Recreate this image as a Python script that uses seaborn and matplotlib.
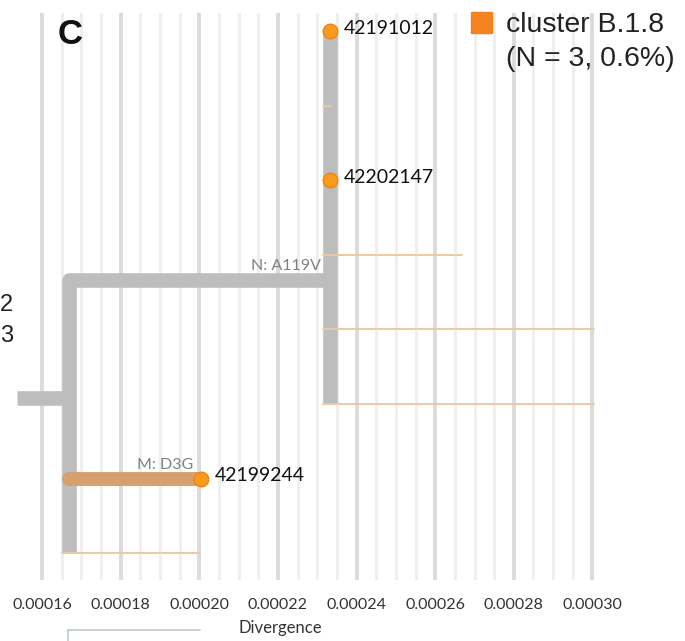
import numpy as np
import pandas as pd
import matplotlib
matplotlib.use("Agg")
import matplotlib.pyplot as plt
import seaborn as sns
from matplotlib.patches import Rectangle
from matplotlib.lines import Line2D

# ---------------- data ----------------
tip_names = ["42191012", "42202147", "42199244"]
tip_div = [0.0002332, 0.0002332, 0.0002005]
tip_y = [0, 2, 6]

node_upper_div = 0.0002332
node_lower_div = 0.0001668
root_div = 0.0001536
node_upper_y = 3.34
root_y = 4.92
upper_span = [0, 5]
lower_span = [3.34, 7]

mut_labels = ["N: A119V", "M: D3G"]

thin_start = [0.0002314, 0.0002314, 0.0002314, 0.0002314, 0.0001651]
thin_end = [0.0002334, 0.0002668, 0.0003004, 0.0003004, 0.0002002]
thin_y = [1, 3, 4, 5, 7]

major_ticks = [0.00016, 0.00018, 0.00020, 0.00022, 0.00024, 0.00026, 0.00028, 0.00030]
tick_labels = ["0.00016", "0.00018", "0.00020", "0.00022", "0.00024", "0.00026", "0.00028", "0.00030"]

legend_lines = ["cluster B.1.8", "(N = 3, 0.6%)"]
side_labels = ["2", "3"]

# ---------------- figure ----------------
sns.set_theme(style="white")
W, H = 685, 641
fig = plt.figure(figsize=(W / 100, H / 100), dpi=100)

def fx(px):
    return px / W

def fy(py):
    return 1 - py / H

ax = fig.add_axes([0, fy(580), 1, (580 - 13) / H])
ax.set_xlim(0.00014932, 0.00032353)
ax.set_ylim(7.36, -0.241)
for s in ax.spines.values():
    s.set_visible(False)

# grid
minor = np.arange(0.00016, 0.0003001, 0.000005)
for v in minor:
    ax.axvline(v, color="#eeeeee", lw=2.0, zorder=0)
for v in major_ticks:
    ax.axvline(v, color="#dbdbdb", lw=2.8, zorder=0)

GRAY = "#bdbdbd"
segs = []
segs += [(0, node_upper_div, upper_span[0]), (0, node_upper_div, upper_span[1])]
segs += [(1, node_lower_div, lower_span[1]), (1, node_lower_div, node_upper_y), (1, node_upper_div, node_upper_y)]
segs += [(2, root_div, root_y), (2, node_lower_div, root_y)]
gdf = pd.DataFrame(segs, columns=["seg", "x", "y"])
sns.lineplot(data=gdf, x="x", y="y", units="seg", estimator=None, sort=False,
             color=GRAY, lw=10.5, solid_joinstyle="round", solid_capstyle="butt",
             ax=ax, zorder=2, legend=False)

tdf = pd.DataFrame({"x": [node_lower_div, tip_div[2]], "y": [tip_y[2], tip_y[2]]})
sns.lineplot(data=tdf, x="x", y="y", estimator=None, sort=False, color="#d6a06e",
             lw=10, solid_capstyle="round", ax=ax, zorder=3, legend=False)

rows = []
for i, (a, b, y) in enumerate(zip(thin_start, thin_end, thin_y)):
    rows += [(i, a, y), (i, b, y)]
thdf = pd.DataFrame(rows, columns=["seg", "x", "y"])
sns.lineplot(data=thdf, x="x", y="y", units="seg", estimator=None, sort=False,
             color="#ebc9a3", lw=1.4, ax=ax, zorder=4, legend=False)

sdf = pd.DataFrame({"x": tip_div, "y": tip_y})
sns.scatterplot(data=sdf, x="x", y="y", s=110, color="#f89a1c", edgecolor="#f08317",
                linewidth=1.0, ax=ax, zorder=6, legend=False)

ax.set_xticks(major_ticks)
ax.set_xticklabels(tick_labels, fontfamily="Lato", fontsize=11.5, color="#333333")
ax.tick_params(axis="x", length=0, pad=13)
ax.set_yticks([])
ax.set_ylabel("")
ax.set_xlabel("Divergence", fontfamily="Lato", fontsize=12, color="#333333")
ax.xaxis.set_label_coords(280 / W, fy(628) / ((580 - 13) / H) - fy(580) / ((580 - 13) / H),
                          transform=ax.transAxes)
ax.xaxis.label.set_verticalalignment("center")

for name, d, y in zip(tip_names, tip_div, tip_y):
    ax.annotate(name, (d, y), xytext=(10, 2), textcoords="offset points",
                ha="left", va="center", fontfamily="Lato", fontsize=14, color="#111111", zorder=7)

ax.annotate(mut_labels[0], (node_upper_div, node_upper_y), xytext=(-6, 5), textcoords="offset points",
            ha="right", va="bottom", fontfamily="Lato", fontsize=11.5, color="#808080", zorder=7)
ax.annotate(mut_labels[1], (tip_div[2], tip_y[2]), xytext=(-6, 5), textcoords="offset points",
            ha="right", va="bottom", fontfamily="Lato", fontsize=11.5, color="#808080", zorder=7)

fig.text(fx(58), fy(34), "C", fontfamily="Liberation Sans", fontweight="bold", fontsize=25,
         ha="left", va="center", color="#111111")

fig.text(fx(0), fy(305), side_labels[0], fontfamily="Liberation Sans", fontsize=17, ha="left", va="center", color="#222222")
fig.text(fx(0), fy(336), side_labels[1], fontfamily="Liberation Sans", fontsize=17, ha="left", va="center", color="#222222")

fig.patches.append(Rectangle((fx(471), fy(33)), fx(21), 21 / H, transform=fig.transFigure,
                             color="#f58220", zorder=10))
fig.text(fx(506), fy(32), legend_lines[0], fontfamily="Liberation Sans", fontsize=20.5,
         ha="left", va="baseline", color="#222222")
fig.text(fx(506), fy(66), legend_lines[1], fontfamily="Liberation Sans", fontsize=20.5,
         ha="left", va="baseline", color="#222222")

fig.add_artist(Line2D([fx(68), fx(200)], [fy(630), fy(630)], transform=fig.transFigure,
                      color="#bcc8d0", lw=1.2))
fig.add_artist(Line2D([fx(68), fx(68)], [fy(630), fy(641)], transform=fig.transFigure,
                      color="#bcc8d0", lw=1.2))

fig.savefig("out.png", dpi=100)
